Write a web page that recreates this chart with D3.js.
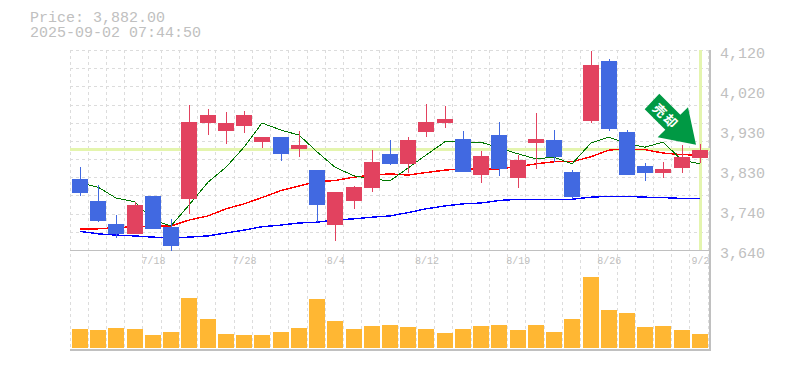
<!DOCTYPE html>
<html>
  <head>
    <meta charset="utf-8" />
    <style>
      html, body { margin: 0; padding: 0; background: #fff; }
      svg { display: block; }
      text { font-family: "Liberation Mono", monospace; fill: #c0c0c0; }
    </style>
  </head>
  <body>
    <svg id="chart" width="785" height="370"></svg>
    <script src="https://cdn.jsdelivr.net/npm/d3@7"></script>
    <script>
      const dates = ["7/14","7/15","7/16","7/17","7/18","7/22","7/23","7/24","7/25","7/28","7/29","7/30","7/31","8/1","8/4","8/5","8/6","8/7","8/8","8/12","8/13","8/14","8/15","8/18","8/19","8/20","8/21","8/22","8/25","8/26","8/27","8/28","8/29","9/1","9/2"];
      const opens = [3812,3759,3704,3680,3771,3696,3764,3946,3927,3939,3900,3912,3884,3833,3701,3759,3790,3872,3848,3924,3946,3908,3821,3917,3814,3898,3905,3828,3951,4095,3924,3843,3826,3838,3861];
      const closes = [3778,3711,3680,3749,3692,3651,3948,3965,3947,3965,3912,3872,3893,3749,3780,3792,3852,3848,3905,3948,3956,3828,3867,3836,3857,3908,3864,3768,4085,3932,3821,3826,3836,3864,3882];
      const highs = [3840,3797,3725,3757,3771,3716,3989,3980,3972,3975,3912,3912,3927,3833,3780,3795,3881,3905,3912,3992,3987,3927,3879,3948,3869,3970,3929,3833,4120,4100,3929,3850,3852,3893,3896];
      const lows = [3772,3709,3671,3680,3692,3640,3728,3917,3896,3922,3886,3855,3864,3708,3663,3740,3780,3845,3826,3912,3934,3828,3802,3819,3790,3836,3852,3764,3946,3927,3821,3807,3814,3826,3850];
      const volumes = [19,18,20,19,13,16,50,29,14,13,13,16,20,49,27,19,22,23,21,19,15,19,22,23,18,23,16,29,71,38,35,21,22,18,14];
      const maShort = [3802,3792,3766,3757,3713,3699,3749,3804,3840,3888,3946,3929,3917,3877,3840,3819,3812,3807,3838,3869,3901,3900,3900,3886,3872,3860,3864,3848,3898,3912,3896,3888,3900,3857,3848];
      const maMid = [3692,3692,3695,3697,3699,3699,3713,3723,3740,3752,3767,3784,3795,3805,3808,3816,3821,3824,3821,3827,3833,3836,3836,3836,3841,3848,3853,3853,3865,3881,3884,3882,3874,3870,3869];
      const maLong = [3686,3680,3677,3675,3672,3671,3672,3675,3682,3689,3697,3701,3706,3708,3713,3716,3720,3723,3731,3740,3747,3752,3754,3760,3763,3763,3763,3763,3768,3770,3770,3768,3767,3765,3765];
      const yTicks = [4120,4024,3928,3832,3736,3640];
      const yTickLabels = ["4,120","4,020","3,930","3,830","3,740","3,640"];
      const xTickLabels = ["7/18","7/28","8/4","8/12","8/19","8/26","9/2"];
      const lastPrice = 3882;

      const svg = d3.select("#chart");
      const upColor = "#e2425f";
      const downColor = "#4169e1";

      const x = d3.scaleBand().domain(dates).range([70, 708.2]);
      const y = d3.scaleLinear().domain([3640, 4120]).range([250.5, 50.5]);
      const yVol = d3.scaleLinear().domain([0, 71]).range([348, 277]);
      const center = (d) => Math.round(x(d) + 2) + 8;

      // grid
      const grid = svg.append("g")
        .attr("stroke", "#dcdcdc")
        .attr("stroke-dasharray", "3,3")
        .attr("shape-rendering", "crispEdges");
      grid.selectAll(".v")
        .data(dates.concat("end"))
        .enter()
        .append("line")
        .attr("x1", (d) => (d == "end" ? 708.5 : Math.floor(x(d)) + 0.5))
        .attr("x2", (d) => (d == "end" ? 708.5 : Math.floor(x(d)) + 0.5))
        .attr("y1", 50)
        .attr("y2", 350);
      grid.selectAll(".h")
        .data(d3.range(12))
        .enter()
        .append("line")
        .attr("x1", 70)
        .attr("x2", 710)
        .attr("y1", (d) => Math.round(50 + (d * 200) / 11) + 0.5)
        .attr("y2", (d) => Math.round(50 + (d * 200) / 11) + 0.5);

      // frame
      const frame = svg.append("g").attr("stroke", "#c0c0c0").attr("shape-rendering", "crispEdges");
      frame.append("line").attr("x1", 70).attr("x2", 711).attr("y1", 250.5).attr("y2", 250.5);
      frame.append("line").attr("x1", 70).attr("x2", 711).attr("y1", 350).attr("y2", 350).attr("stroke-width", 2);
      frame.append("line").attr("x1", 710).attr("x2", 710).attr("y1", 50).attr("y2", 351).attr("stroke-width", 2);

      // current price markers
      svg.append("line")
        .attr("x1", 70).attr("x2", 710)
        .attr("y1", Math.round(y(lastPrice)) - 0.5).attr("y2", Math.round(y(lastPrice)) - 0.5)
        .attr("stroke", "#e4f5ae").attr("stroke-width", 3)
        .attr("shape-rendering", "crispEdges");
      svg.append("line")
        .attr("x1", center("9/2") + 0.5).attr("x2", center("9/2") + 0.5)
        .attr("y1", 50).attr("y2", 250)
        .attr("stroke", "#e4f5ae").attr("stroke-width", 3)
        .attr("shape-rendering", "crispEdges");

      // moving averages sit under the candles
      const lineFor = (values) => d3.line().x((d) => center(d)).y((d, i) => y(values[i]))(dates);
      svg.append("path").attr("d", lineFor(maLong)).attr("fill", "none").attr("stroke", "#0000ff").attr("stroke-width", 1.4).attr("shape-rendering", "crispEdges");
      svg.append("path").attr("d", lineFor(maMid)).attr("fill", "none").attr("stroke", "#ff0000").attr("stroke-width", 1.4).attr("shape-rendering", "crispEdges");
      svg.append("path").attr("d", lineFor(maShort)).attr("fill", "none").attr("stroke", "#007700").attr("stroke-width", 1).attr("shape-rendering", "crispEdges");

      // candles
      const isUp = (i) => closes[i] >= opens[i];
      const candles = svg.append("g").attr("shape-rendering", "crispEdges");
      candles.selectAll(".wick")
        .data(dates)
        .enter()
        .append("line")
        .attr("x1", (d) => center(d) + 0.5)
        .attr("x2", (d) => center(d) + 0.5)
        .attr("y1", (d, i) => y(highs[i]))
        .attr("y2", (d, i) => y(lows[i]))
        .attr("stroke", (d, i) => (isUp(i) ? upColor : downColor));
      candles.selectAll(".body")
        .data(dates)
        .enter()
        .append("rect")
        .attr("x", (d) => center(d) - 8)
        .attr("width", 16)
        .attr("y", (d, i) => y(Math.max(opens[i], closes[i])))
        .attr("height", (d, i) => Math.abs(y(opens[i]) - y(closes[i])))
        .attr("fill", (d, i) => (isUp(i) ? upColor : downColor));

      // volume
      svg.append("g")
        .selectAll("rect")
        .data(dates)
        .enter()
        .append("rect")
        .attr("x", (d) => center(d) - 8)
        .attr("width", 16)
        .attr("y", (d, i) => yVol(volumes[i]))
        .attr("height", (d, i) => yVol(0) - yVol(volumes[i]))
        .attr("fill", "#ffb733")
        .attr("shape-rendering", "crispEdges");

      // axes
      const yAxis = d3.axisRight(y)
        .tickValues(yTicks)
        .tickSize(0)
        .tickFormat((d, i) => yTickLabels[i]);
      const yAxisG = svg.append("g").attr("transform", "translate(710,0)").call(yAxis);
      yAxisG.select(".domain").remove();
      yAxisG.selectAll("text")
        .attr("x", 10)
        .attr("dy", 6.5)
        .style("font-size", "15px")
        .style("font-family", '"Liberation Mono", monospace')
        .attr("fill", "#c0c0c0");

      const xLabelScale = d3.scalePoint().domain(dates).range([center(dates[0]), center(dates[dates.length - 1])]);
      const xAxis = d3.axisBottom(xLabelScale).tickValues(xTickLabels).tickSize(0);
      const xAxisG = svg.append("g").attr("transform", "translate(0,250)").call(xAxis);
      xAxisG.select(".domain").remove();
      xAxisG.selectAll("text")
        .attr("y", 0)
        .attr("dy", 14)
        .style("font-size", "10px")
        .style("font-family", '"Liberation Mono", monospace')
        .attr("fill", "#c0c0c0");

      // title
      svg.append("text").attr("x", 30).attr("y", 22).style("font-size", "15px").text("Price: 3,882.00");
      svg.append("text").attr("x", 30).attr("y", 37).style("font-size", "15px").text("2025-09-02 07:44:50");

      // sell arrow, anchored on the last candle
      const arrow = svg.append("g")
        .attr("transform", "translate(" + (center("9/2") - 4) + "," + (y(highs[34]) + 1) + ")");
      arrow.append("polygon")
        .attr("points", "-36.7,-51 -51.3,-35.7 -30.7,-15 -38.3,-7.7 0,0 -8,-37.7 -15.7,-30")
        .attr("fill", "#009944");
      arrow.append("text")
        .attr("transform", "translate(-30,-28.5) rotate(45)")
        .attr("text-anchor", "middle")
        .attr("dy", 5)
        .style("font-family", '"Noto Sans CJK JP"')
        .style("font-size", "13px")
        .style("font-weight", "bold")
        .style("letter-spacing", "2px")
        .style("fill", "#fff")
        .text("売却");
    </script>
  </body>
</html>
